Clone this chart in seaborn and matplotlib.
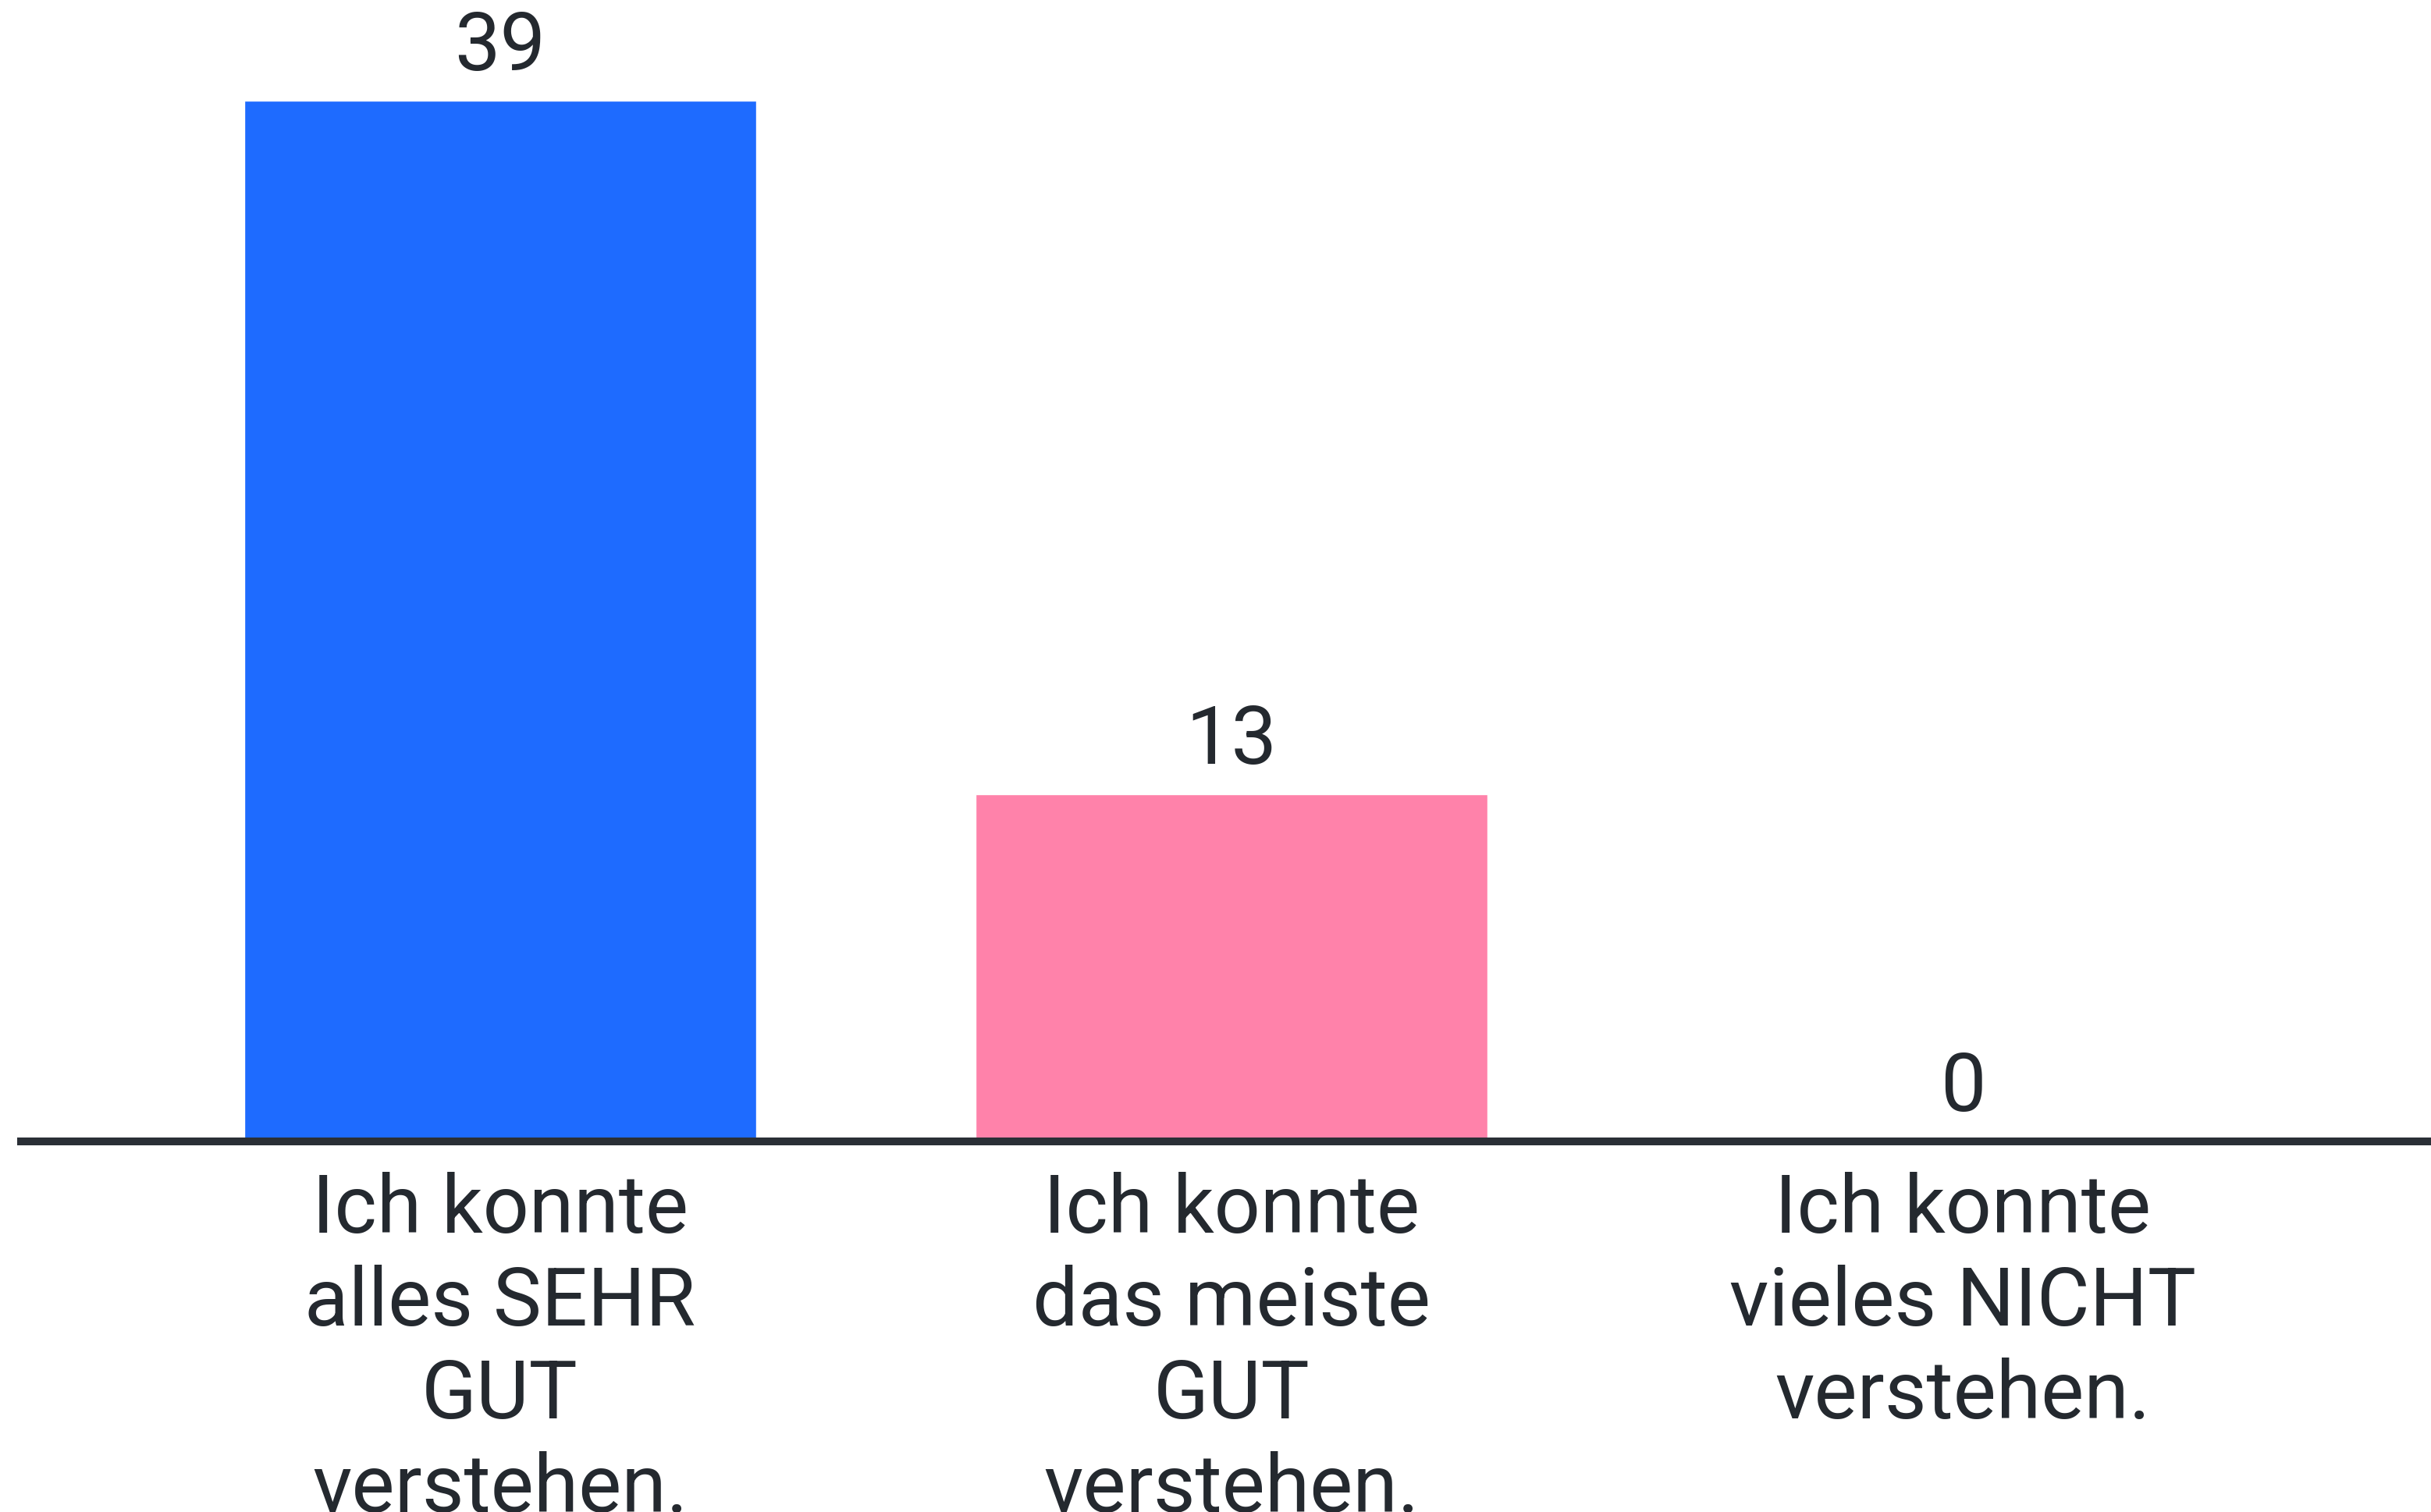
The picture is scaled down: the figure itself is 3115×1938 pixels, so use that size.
import matplotlib
matplotlib.use("Agg")
import matplotlib.pyplot as plt
import seaborn as sns
import pandas as pd

categories = [
    "Ich konnte\nalles SEHR\nGUT\nverstehen.",
    "Ich konnte\ndas meiste\nGUT\nverstehen.",
    "Ich konnte\nvieles NICHT\nverstehen.",
]
counts = [39, 13, 0]
bar_colors = ["#1E6BFF", "#FF82AA", "#FFFFFF"]

text_color = "#24292F"

sns.set_theme(style="white")
plt.rcParams["font.family"] = ["Roboto", "DejaVu Sans"]

df = pd.DataFrame({"answer": categories, "count": counts})

fig = plt.figure(figsize=(31.15, 19.38), dpi=100)
ax = fig.add_axes([22 / 3115, 1 - 1463 / 1938, 1 - 22 / 3115, 1463 / 1938])

sns.barplot(
    data=df,
    x="answer",
    y="count",
    hue="answer",
    palette=bar_colors,
    saturation=1,
    width=0.70,
    legend=False,
    ax=ax,
)

for container in ax.containers:
    ax.bar_label(container, padding=13, fontsize=75, color=text_color)

ax.set_xlim(-0.66, 2.64)
ax.set_ylim(0, 42.77)
ax.set_xlabel("")
ax.set_ylabel("")
ax.set_yticks([])

for side in ["top", "left", "right"]:
    ax.spines[side].set_visible(False)
ax.spines["bottom"].set_linewidth(7.2)
ax.spines["bottom"].set_color("#2A2F36")
ax.spines["bottom"].set_capstyle("butt")

ax.tick_params(axis="x", length=0, pad=28, labelsize=75, labelcolor=text_color)
for lbl in ax.get_xticklabels():
    lbl.set_linespacing(1.26)

fig.patch.set_facecolor("white")
fig.savefig("out.png", dpi=100, facecolor="white")
plt.close()
